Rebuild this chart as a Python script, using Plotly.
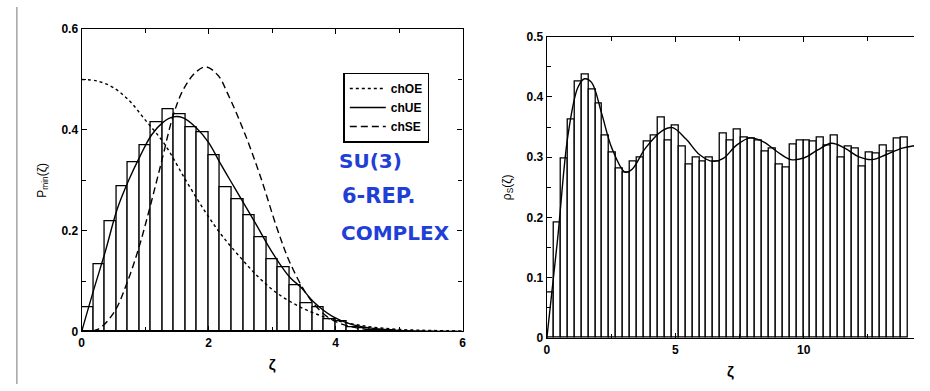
import plotly.graph_objects as go

W, H = 930, 391

# ---------------- left panel: distribution of the smallest eigenvalue ----------------
min_bin_width = 4 / 22
min_hist = [0.048, 0.134, 0.219, 0.288, 0.336, 0.369, 0.415, 0.442, 0.432, 0.405,
            0.396, 0.349, 0.286, 0.262, 0.231, 0.187, 0.143, 0.127, 0.092, 0.056,
            0.049, 0.024, 0.020, 0.008, 0.006, 0.003, 0.002, 0.001]

oe_x = [0, 0.25, 0.5, 0.75, 1.0, 1.3, 1.65, 1.95, 2.2, 2.5, 2.8, 3.1, 3.45, 3.75, 4.0, 4.5, 5.0, 5.5, 6.0]
oe_y = [0.5, 0.497, 0.484, 0.458, 0.42, 0.373, 0.298, 0.237, 0.192, 0.147, 0.106, 0.074, 0.048, 0.032,
        0.022, 0.010, 0.004, 0.002, 0.001]

ue_x = [0, 0.19, 0.375, 0.56, 0.74, 0.92, 1.1, 1.28, 1.44, 1.6, 1.8, 2.0, 2.2, 2.41, 2.75, 2.93, 3.11,
        3.29, 3.45, 3.66, 3.95, 4.25, 4.6, 5.0, 5.5, 6.0]
ue_y = [0, 0.083, 0.16, 0.243, 0.30, 0.348, 0.39, 0.415, 0.426, 0.424, 0.405, 0.375, 0.33, 0.285, 0.212,
        0.172, 0.136, 0.106, 0.088, 0.058, 0.03, 0.014, 0.006, 0.002, 0.0005, 0]

se_x = [0, 0.25, 0.51, 0.71, 0.9, 1.08, 1.26, 1.44, 1.6, 1.8, 1.96, 2.15, 2.3, 2.56, 2.82, 3.08,
        3.29, 3.6, 3.92, 4.3, 4.8, 5.5, 6.0]
se_y = [0, 0.004, 0.038, 0.095, 0.166, 0.249, 0.338, 0.428, 0.48, 0.515, 0.525, 0.508, 0.472, 0.396,
        0.306, 0.204, 0.134, 0.064, 0.025, 0.008, 0.002, 0, 0]

# ---------------- right panel: microscopic spectral density ----------------
dens_bin_width = 0.27
dens_hist = [0.075, 0.192, 0.298, 0.363, 0.425, 0.437, 0.412, 0.389, 0.336, 0.307,
             0.281, 0.275, 0.292, 0.299, 0.325, 0.336, 0.365, 0.328, 0.352, 0.317,
             0.288, 0.300, 0.293, 0.300, 0.293, 0.339, 0.328, 0.345, 0.332, 0.330,
             0.328, 0.309, 0.315, 0.288, 0.283, 0.321, 0.328, 0.328, 0.325, 0.333,
             0.320, 0.335, 0.299, 0.317, 0.314, 0.284, 0.307, 0.306, 0.320, 0.310,
             0.331, 0.332]

dens_x = [0, 0.42, 0.82, 1.21, 1.47, 1.74, 2.13, 2.53, 3.05, 3.32, 3.84, 4.5, 4.89, 5.42, 5.95,
          6.47, 6.87, 7.39, 7.92, 8.45, 8.97, 9.5, 10.03, 10.55, 11.08, 11.6, 12.13, 12.66,
          13.2, 13.84, 14.3]
dens_y = [0, 0.165, 0.336, 0.416, 0.43, 0.424, 0.373, 0.315, 0.275, 0.28, 0.315, 0.344, 0.349,
          0.33, 0.304, 0.293, 0.298, 0.32, 0.332, 0.325, 0.309, 0.296, 0.299, 0.312, 0.323,
          0.315, 0.301, 0.296, 0.304, 0.315, 0.319]

bar_style = dict(color="white", line=dict(color="black", width=1.3))
line_w = 1.4

fig = go.Figure()

fig.add_trace(go.Bar(x=[i * min_bin_width for i in range(len(min_hist))], y=min_hist,
                     width=min_bin_width, offset=0, marker=bar_style,
                     xaxis="x", yaxis="y", showlegend=False, hoverinfo="skip"))
fig.add_trace(go.Scatter(x=oe_x, y=oe_y, mode="lines", name="chOE",
                         line=dict(color="black", width=line_w, dash="3px,3px", shape="spline"),
                         xaxis="x", yaxis="y"))
fig.add_trace(go.Scatter(x=ue_x, y=ue_y, mode="lines", name="chUE",
                         line=dict(color="black", width=line_w, shape="spline"),
                         xaxis="x", yaxis="y"))
fig.add_trace(go.Scatter(x=se_x, y=se_y, mode="lines", name="chSE",
                         line=dict(color="black", width=line_w, dash="7px,4px", shape="spline"),
                         xaxis="x", yaxis="y"))

fig.add_trace(go.Bar(x=[i * dens_bin_width for i in range(len(dens_hist))], y=dens_hist,
                     width=dens_bin_width, offset=0, marker=bar_style,
                     xaxis="x2", yaxis="y2", showlegend=False, hoverinfo="skip"))
fig.add_trace(go.Scatter(x=dens_x, y=dens_y, mode="lines", showlegend=False,
                         line=dict(color="black", width=line_w, shape="spline"),
                         xaxis="x2", yaxis="y2"))

tick_font = dict(family="Liberation Sans", size=12, color="black", weight="bold")
zeta_font = dict(family="Liberation Sans", size=15, color="black", weight="bold")
ylab_font = dict(family="Liberation Sans", size=12, color="black")
axis_common = dict(showline=True, linecolor="black", linewidth=1.4, ticks="inside",
                   ticklen=5, tickcolor="black", tickfont=tick_font, showgrid=False,
                   zeroline=False)

fig.update_layout(
    width=W, height=H, margin=dict(l=0, r=0, t=0, b=0),
    paper_bgcolor="white", plot_bgcolor="white", bargap=0,
    xaxis=dict(domain=[79.3 / W, 463 / W], range=[0, 6], tickvals=[0, 2, 4, 6],
               minor=dict(tickvals=[1, 3, 5], ticks="inside", ticklen=4, tickcolor="black"),
               mirror="ticks", anchor="y",
               title=dict(text="ζ", font=zeta_font, standoff=10),
               **axis_common),
    yaxis=dict(domain=[1 - 336.5 / H, 1 - 23 / H], range=[0, 0.6], tickvals=[0, 0.2, 0.4, 0.6],
               ticktext=["0", "0.2", "0.4", "0.6"],
               minor=dict(tickvals=[0.1, 0.3, 0.5], ticks="inside", ticklen=4, tickcolor="black"),
               mirror="ticks", anchor="x",
               title=dict(text="P<sub>min</sub>(ζ)", font=ylab_font, standoff=12),
               **axis_common),
    xaxis2=dict(domain=[548 / W, 918 / W], range=[0, 14.3], tickvals=[0, 5, 10],
                minor=dict(tickvals=[2.5, 7.5, 12.5], ticks="inside", ticklen=4, tickcolor="black"),
                mirror="ticks", anchor="y2",
                title=dict(text="ζ", font=zeta_font, standoff=10),
                **axis_common),
    yaxis2=dict(domain=[1 - 343.3 / H, 1 - 30.7 / H], range=[0, 0.5],
                tickvals=[0, 0.1, 0.2, 0.3, 0.4, 0.5], ticktext=["0", "0.1", "0.2", "0.3", "0.4", "0.5"],
                minor=dict(tickvals=[0.05, 0.15, 0.25, 0.35, 0.45], ticks="inside", ticklen=4, tickcolor="black"),
                anchor="x2",
                title=dict(text="ρ<sub>S</sub>(ζ)", font=ylab_font, standoff=12),
                **axis_common),
    legend=dict(x=343 / W, y=1 - 68 / H, xanchor="left", yanchor="top",
                bordercolor="black", borderwidth=1.4, bgcolor="white",
                font=dict(family="Liberation Sans", size=12, color="black", weight="bold"),
                tracegroupgap=0, itemwidth=36),
)

# handwritten note
note_color = "#1f3fd6"
for txt, xl, yc, size in [("SU(3)", 337, 160, 20), ("6-REP.", 340, 196, 21), ("COMPLEX", 339, 234, 20)]:
    fig.add_annotation(text=txt, x=xl / W, y=1 - yc / H, xref="paper", yref="paper",
                       xanchor="left", showarrow=False,
                       font=dict(family="DejaVu Sans", size=size, color=note_color, weight="bold"))

# page edge of the scanned sheet
fig.add_shape(type="line", xref="paper", yref="paper", x0=14 / W, x1=14 / W, y0=0, y1=1,
              line=dict(color="#777777", width=1))

fig.write_html("out.html")
